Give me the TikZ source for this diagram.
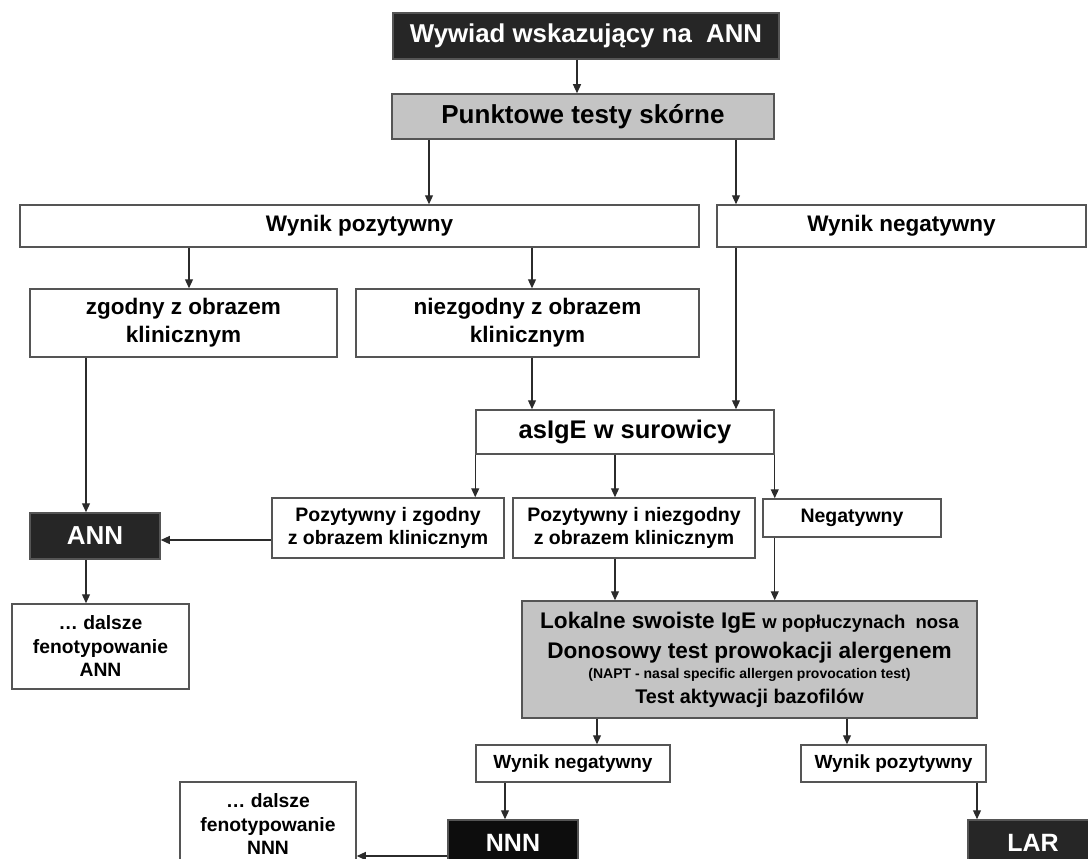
\documentclass[tikz,border=0pt]{standalone}
\usepackage{fontspec}
\setmainfont{Liberation Sans}
\usetikzlibrary{arrows.meta}
\definecolor{boxline}{HTML}{555555}
\definecolor{darkfill}{HTML}{262626}
\definecolor{blackfill}{HTML}{0D0D0D}
\definecolor{greyfill}{HTML}{C4C4C4}
\definecolor{arrowline}{HTML}{2B2B2B}

\begin{document}
\begin{tikzpicture}[x=1pt,y=-1pt,
    box/.style={draw=boxline, line width=1.5pt, fill=white, inner sep=0pt, align=center},
    darkbox/.style={box, fill=darkfill, text=white},
    greybox/.style={box, fill=greyfill},
    sz/.style 2 args={font=\bfseries\fontsize{#1}{#2}\selectfont},
    arr/.style={draw=arrowline, line width=1.2pt, -{Triangle[width=8pt,length=9pt]}}]
% \draw [help lines] (0,0) grid[step=50] (1088,859) ;
\useasboundingbox (0,0) rectangle (1088,859);
\clip (0,0) rectangle (1088,859);

% columns and rows of the connectors
\coordinate (xtop) at (577,0);
\coordinate (xpoz) at (429,0);
\coordinate (xneg) at (736,0);
\coordinate (xzg)  at (189,0);
\coordinate (xnz)  at (532,0);
\coordinate (xann) at (86,0);
\coordinate (xpnz) at (615,0);
\coordinate (xlneg) at (597,0);
\coordinate (xlpoz) at (847,0);
\coordinate (xnnn) at (505,0);
\coordinate (xlar) at (977,0);
\coordinate (yann) at (0,540);
\coordinate (ynnn) at (0,856);

\node[darkbox, minimum width=386pt, minimum height=46pt, sz={25.8}{30}] (wywiad) at (586,36) {Wywiad wskazujący na\ \ ANN};
\node[greybox, minimum width=382pt, minimum height=45pt, sz={26}{30}] (punkt) at (583,116.5) {Punktowe testy skórne};

\node[box, minimum width=679pt, minimum height=42pt, sz={22.5}{27}] (wpoz) at (359.5,226) {Wynik pozytywny};
\node[box, minimum width=369pt, minimum height=42pt, sz={22.5}{27}] (wneg) at (901.5,226) {Wynik negatywny};

\node[box, minimum width=307pt, minimum height=68pt, sz={22.5}{28}] (zgodny) at (183.5,323) {zgodny z obrazem\\klinicznym};
\node[box, minimum width=343pt, minimum height=68pt, sz={22.5}{28}] (niezgodny) at (527.5,323) {niezgodny z obrazem\\klinicznym};

\node[box, minimum width=298pt, minimum height=44pt, sz={25.5}{30}] (asige) at (625,432) {asIgE w surowicy};

\node[darkbox, minimum width=130pt, minimum height=46pt, sz={26}{30}] (ann) at (95,536) {ANN};
\node[box, minimum width=232pt, minimum height=60pt, sz={19.5}{23}] (pzg) at (388,528) {Pozytywny i zgodny\\z obrazem klinicznym};
\node[box, minimum width=242pt, minimum height=60pt, sz={19.5}{23}] (pnz) at (634,528) {Pozytywny i niezgodny\\z obrazem klinicznym};
\node[box, minimum width=178pt, minimum height=38pt, sz={19.5}{23}] (neg) at (852,518) {Negatywny};

\node[box, minimum width=177pt, minimum height=85pt, sz={19.3}{23.5}] (dalann) at (100.5,646.5) {… dalsze\\fenotypowanie\\ANN};
\node[greybox, minimum width=455pt, minimum height=117pt, sz={22.6}{25}] (lokalne) at (749.5,659.5)
  {Lokalne swoiste IgE {\fontsize{18.5}{25}\selectfont w popłuczynach\ \ nosa}\\[5pt]
   Donosowy test prowokacji alergenem\\[-5pt]
   {\fontsize{14}{25}\selectfont (NAPT - nasal specific allergen provocation test)}\\
   {\fontsize{19.8}{25}\selectfont Test aktywacji bazofilów}};

\node[box, minimum width=194pt, minimum height=37pt, sz={19}{23}] (wneg2) at (573,763.5) {Wynik negatywny};
\node[box, minimum width=185pt, minimum height=37pt, sz={19}{23}] (wpoz2) at (893.5,763.5) {Wynik pozytywny};

\node[box, minimum width=176pt, minimum height=85pt, sz={19.3}{23.5}] (dalnnn) at (268,824.5) {… dalsze\\fenotypowanie\\NNN};
\node[darkbox, fill=blackfill, minimum width=130pt, minimum height=46pt, sz={25}{30}] (nnn) at (513,843) {NNN};
\node[darkbox, minimum width=130pt, minimum height=46pt, sz={25}{30}] (lar) at (1033,843) {LAR};

% connectors
\draw[arr] (wywiad.south -| xtop) -- (punkt.north -| xtop);
\draw[arr] (punkt.south -| xpoz) -- (wpoz.north -| xpoz);
\draw[arr] (punkt.south -| xneg) -- (wneg.north -| xneg);
\draw[arr] (wpoz.south -| xzg) -- (zgodny.north -| xzg);
\draw[arr] (wpoz.south -| xnz) -- (niezgodny.north -| xnz);
\draw[arr] (niezgodny.south -| xnz) -- (asige.north -| xnz);
\draw[arr] (wneg.south -| xneg) -- (asige.north -| xneg);
\draw[arr] (zgodny.south -| xann) -- (ann.north -| xann);
\draw[arr] (ann.south -| xann) -- (dalann.north -| xann);
\draw[arr] (asige.south west) -- (pzg.north -| asige.south west);
\draw[arr] (asige.south -| xpnz) -- (pnz.north -| xpnz);
\draw[arr] (asige.south east) -- (neg.north -| asige.south east);
\draw[arr] (pzg.west |- yann) -- (ann.east |- yann);
\draw[arr] (pnz.south -| xpnz) -- (lokalne.north -| xpnz);
\draw[arr] (neg.south -| asige.south east) -- (lokalne.north -| asige.south east);
\draw[arr] (lokalne.south -| xlneg) -- (wneg2.north -| xlneg);
\draw[arr] (lokalne.south -| xlpoz) -- (wpoz2.north -| xlpoz);
\draw[arr] (wneg2.south -| xnnn) -- (nnn.north -| xnnn);
\draw[arr] (wpoz2.south -| xlar) -- (lar.north -| xlar);
\draw[arr] (nnn.west |- ynnn) -- (dalnnn.east |- ynnn);
\end{tikzpicture}
\end{document}
